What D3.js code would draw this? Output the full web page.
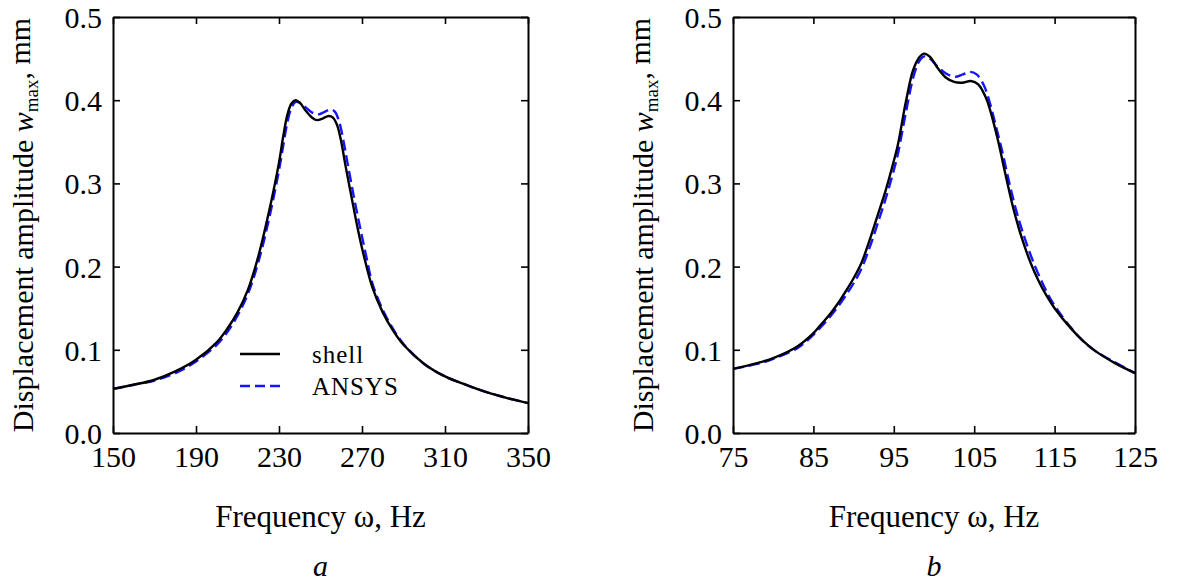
<!DOCTYPE html>
<html lang="en">
  <head>
    <meta charset="utf-8">
    <script src="https://d3js.org/d3.v7.min.js"></script>
    <style>
      body { margin: 0; background: #fff; }
      text { font-family: "Liberation Serif", "Times New Roman", serif; fill: #000; }
    </style>
  </head>
  <body>
    <div id="chart">
      <svg width="1181" height="584"></svg>
    </div>
    <script type="text/javascript">
      // Panel a
      var freqShellA = [150, 160, 170, 180, 190, 200, 205, 210, 215, 220, 225, 230, 232, 234, 236, 238, 240, 243, 246, 248.5, 251, 254, 256, 258, 260, 262, 265, 268, 271, 275, 280, 285, 290, 300, 310, 320, 330, 340, 350];
      var shellA = [0.053, 0.058, 0.064, 0.074, 0.088, 0.109, 0.125, 0.145, 0.172, 0.212, 0.264, 0.325, 0.356, 0.382, 0.396, 0.400, 0.397, 0.387, 0.379, 0.376, 0.378, 0.381, 0.379, 0.370, 0.350, 0.322, 0.283, 0.245, 0.212, 0.175, 0.145, 0.123, 0.106, 0.083, 0.068, 0.058, 0.049, 0.042, 0.036];
      var freqAnsysA = [150, 160, 170, 180, 190, 200, 205, 210, 215, 220, 225, 230, 232, 234, 236, 238, 240, 243, 246, 249, 252, 255, 257, 259, 261, 263, 266, 269, 272, 275, 280, 285, 290, 300, 310, 320, 330, 340, 350];
      var ansysA = [0.053, 0.058, 0.063, 0.072, 0.086, 0.106, 0.121, 0.141, 0.167, 0.205, 0.255, 0.316, 0.345, 0.373, 0.391, 0.398, 0.397, 0.391, 0.385, 0.383, 0.386, 0.389, 0.386, 0.374, 0.352, 0.325, 0.285, 0.248, 0.213, 0.180, 0.148, 0.125, 0.107, 0.083, 0.068, 0.058, 0.049, 0.042, 0.036];
      var xTicksA = [150, 190, 230, 270, 310, 350];

      // Panel b
      var freqShellB = [75, 78, 80, 83, 85, 86, 87, 88, 89, 90, 91, 92, 93, 94, 95, 95.5, 96.5, 97.4, 98.2, 98.8, 99.5, 100.5, 101.5, 102.5, 103.5, 104.6, 105.5, 106.5, 107.3, 108, 109, 110, 111, 112, 113, 114, 115, 117, 118.5, 120, 122.5, 125];
      var shellB = [0.077, 0.084, 0.090, 0.104, 0.120, 0.131, 0.142, 0.155, 0.170, 0.186, 0.205, 0.232, 0.262, 0.292, 0.327, 0.346, 0.398, 0.436, 0.452, 0.456, 0.452, 0.438, 0.427, 0.422, 0.421, 0.423, 0.419, 0.402, 0.377, 0.350, 0.306, 0.265, 0.232, 0.205, 0.183, 0.165, 0.150, 0.126, 0.111, 0.099, 0.084, 0.072];
      var freqAnsysB = [75, 78, 80, 83, 85, 86, 87, 88, 89, 90, 91, 92, 93, 94, 95, 95.5, 96.5, 97.5, 98.3, 98.9, 99.6, 100.5, 101.5, 102.6, 103.6, 104.5, 105.3, 106.2, 107, 107.8, 108.5, 109.5, 110.5, 111.5, 112.5, 113.5, 114.5, 115.5, 117, 118.5, 120, 122.5, 125];
      var ansysB = [0.077, 0.083, 0.089, 0.102, 0.118, 0.128, 0.139, 0.151, 0.165, 0.180, 0.198, 0.223, 0.252, 0.282, 0.316, 0.335, 0.385, 0.430, 0.449, 0.453, 0.449, 0.440, 0.432, 0.428, 0.431, 0.434, 0.431, 0.418, 0.395, 0.365, 0.338, 0.295, 0.258, 0.228, 0.202, 0.180, 0.161, 0.146, 0.127, 0.111, 0.099, 0.085, 0.072];
      var xTicksB = [75, 85, 95, 105, 115, 125];

      var yTicks = [0.0, 0.1, 0.2, 0.3, 0.4, 0.5];
      var seriesNames = ["shell", "ANSYS"];

      var svg = d3.select("svg");
      var plotTop = 17, plotBottom = 433, tick = 7;

      var yScale = d3.scaleLinear().domain([0, 0.5]).range([plotBottom, plotTop]);

      var line = function(x) {
        return d3.line()
          .x(function(d) { return x(d[0]); })
          .y(function(d) { return yScale(d[1]); })
          .curve(d3.curveCatmullRom.alpha(0.5));
      };

      function panel(opts) {
        var x = d3.scaleLinear().domain(opts.domain).range([opts.left, opts.right]);
        var g = svg.append("g");

        // curves
        var ansys = d3.zip(opts.fAnsys, opts.ansys);
        var shell = d3.zip(opts.fShell, opts.shell);
        g.append("path").datum(ansys)
          .attr("d", line(x))
          .attr("fill", "none")
          .attr("stroke", "#1414ff")
          .attr("stroke-width", 2.4)
          .attr("stroke-dasharray", "11,5");
        g.append("path").datum(shell)
          .attr("d", line(x))
          .attr("fill", "none")
          .attr("stroke", "#000")
          .attr("stroke-width", 2.4);

        // axes with inward ticks on all four sides
        var axB = g.append("g").attr("transform", "translate(0," + plotBottom + ")")
          .call(d3.axisBottom(x).tickValues(opts.xTicks).tickSizeInner(-tick).tickSizeOuter(0).tickPadding(13));
        var axT = g.append("g").attr("transform", "translate(0," + plotTop + ")")
          .call(d3.axisTop(x).tickValues(opts.xTicks).tickSizeInner(-tick).tickSizeOuter(0).tickFormat(""));
        var axL = g.append("g").attr("transform", "translate(" + opts.left + ",0)")
          .call(d3.axisLeft(yScale).tickValues(yTicks).tickSizeInner(-tick).tickSizeOuter(0)
            .tickPadding(11).tickFormat(d3.format(".1f")));
        var axR = g.append("g").attr("transform", "translate(" + opts.right + ",0)")
          .call(d3.axisRight(yScale).tickValues(yTicks).tickSizeInner(-tick).tickSizeOuter(0).tickFormat(""));
        [axB, axT, axL, axR].forEach(function(a) {
          a.attr("font-family", "Liberation Serif");
          a.selectAll(".domain").attr("stroke", "#000").attr("stroke-width", 2);
          a.selectAll(".tick line").attr("stroke", "#000").attr("stroke-width", 1.6);
          a.selectAll("text").style("font-family", "Liberation Serif").style("font-size", "30px").attr("fill", "#000");
        });
        axB.selectAll("text").attr("dy", "0.71em");
        axL.selectAll("text").attr("dy", "0.35em");

        // axis titles
        g.append("text")
          .attr("x", (opts.left + opts.right) / 2)
          .attr("y", 527)
          .attr("text-anchor", "middle")
          .style("font-size", "31px")
          .text("Frequency \u03c9, Hz");
        var yt = g.append("text")
          .attr("transform", "translate(" + (opts.left - 80) + "," + ((plotTop + plotBottom) / 2) + ") rotate(-90)")
          .attr("text-anchor", "middle")
          .style("font-size", "30px");
        yt.append("tspan").text("Displacement amplitude ");
        yt.append("tspan").style("font-style", "italic").text("w");
        yt.append("tspan").attr("dy", "0.25em").style("font-size", "19px").text("max");
        yt.append("tspan").attr("dy", "-0.25em").text(", mm");

        // panel letter
        g.append("text")
          .attr("x", (opts.left + opts.right) / 2)
          .attr("y", 576)
          .attr("text-anchor", "middle")
          .style("font-style", "italic")
          .style("font-size", "30px")
          .text(opts.letter);
      }

      panel({domain: [150, 350], left: 113, right: 528, xTicks: xTicksA,
             fShell: freqShellA, shell: shellA, fAnsys: freqAnsysA, ansys: ansysA, letter: "a"});
      panel({domain: [75, 125], left: 733, right: 1135, xTicks: xTicksB,
             fShell: freqShellB, shell: shellB, fAnsys: freqAnsysB, ansys: ansysB, letter: "b"});

      // legend in panel a
      var legend = svg.append("g").attr("transform", "translate(240,354)");
      seriesNames.forEach(function(name, i) {
        var row = legend.append("g").attr("transform", "translate(0," + (i * 32) + ")");
        row.append("line")
          .attr("x1", 0).attr("x2", 40).attr("y1", 0).attr("y2", 0)
          .attr("stroke", i === 0 ? "#000" : "#1414ff")
          .attr("stroke-width", 2.4)
          .attr("stroke-dasharray", i === 0 ? null : "10,5");
        row.append("text")
          .attr("x", 72).attr("y", 9)
          .style("font-size", "25px")
          .style("letter-spacing", "1px")
          .text(name);
      });
    </script>
  </body>
</html>
